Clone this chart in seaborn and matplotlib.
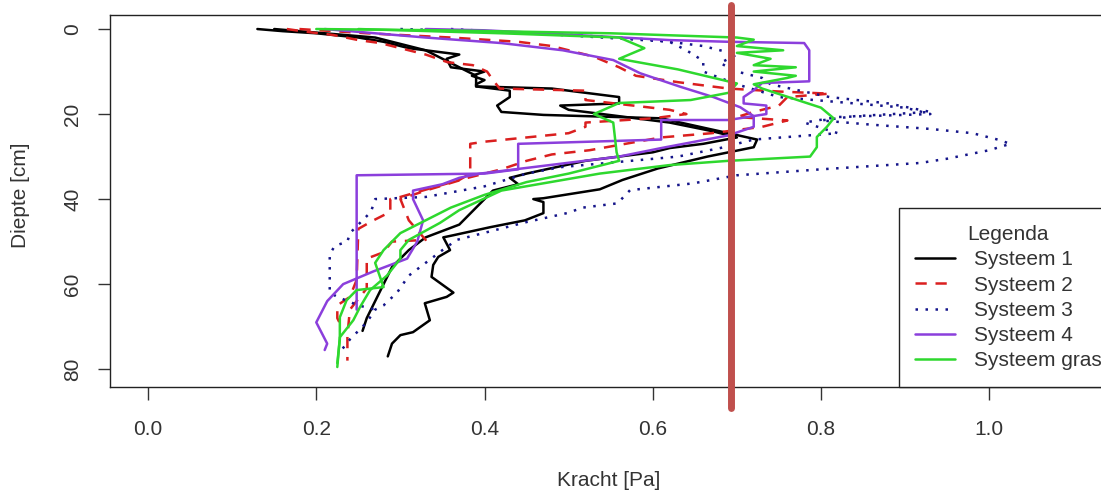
import matplotlib
matplotlib.use("Agg")
import matplotlib.pyplot as plt
import seaborn as sns
import pandas as pd
from matplotlib.lines import Line2D

# Depth profiles: (depth [cm], force [Pa]); two replicates per system
s1_a = [(0, 0.13), (0.5, 0.16), (1, 0.20), (2, 0.25), (3, 0.28), (4, 0.30), (4.5, 0.31), (6, 0.37),
        (7, 0.355), (9, 0.36), (10, 0.40), (11, 0.385), (12, 0.40), (13, 0.39), (13.5, 0.39),
        (14.5, 0.43), (16, 0.43), (18, 0.415), (19.5, 0.42), (20.2, 0.47), (21, 0.61), (24.5, 0.69),
        (26, 0.724), (27.8, 0.72), (29, 0.69), (30, 0.665), (32.8, 0.606), (35.5, 0.564), (37.7, 0.537),
        (39.8, 0.47), (40, 0.458), (40.7, 0.47), (43.3, 0.47), (45, 0.448), (46.6, 0.407), (48.5, 0.363),
        (49, 0.351), (52, 0.359), (53.6, 0.345), (55.5, 0.339), (58.3, 0.337), (62, 0.363), (63, 0.355),
        (64.5, 0.329), (68.5, 0.335), (71.3, 0.315), (72, 0.30), (74, 0.29), (77, 0.285)]
s1_b = [(0, 0.15), (1, 0.21), (2, 0.27), (3.5, 0.30), (5, 0.33), (7, 0.35), (9, 0.37), (11, 0.39),
        (13.5, 0.39), (14, 0.48), (16, 0.56), (17.5, 0.56), (18, 0.49), (19, 0.50), (20.5, 0.56),
        (22, 0.62), (24, 0.67), (25.5, 0.70), (27, 0.66), (28, 0.62), (29, 0.60), (31, 0.52), (34, 0.45),
        (35, 0.43), (36.5, 0.44), (38, 0.41), (42, 0.39), (46, 0.37), (49, 0.33), (52, 0.31), (56, 0.29),
        (60, 0.28), (64, 0.27), (68, 0.26), (71, 0.255)]

s2_a = [(0, 0.165), (0.7, 0.19), (1.4, 0.22), (2.6, 0.25), (3.3, 0.276), (6, 0.33), (7.8, 0.356),
        (8.5, 0.386), (10, 0.403), (12, 0.41), (14, 0.418), (14.5, 0.52), (16.7, 0.52), (19, 0.62),
        (20, 0.64), (21, 0.60), (22, 0.52), (23, 0.52), (24.5, 0.50), (26.5, 0.40), (27, 0.383),
        (34, 0.383), (35.5, 0.37), (39.5, 0.30), (40, 0.288), (43, 0.288), (45, 0.268), (47, 0.25),
        (59, 0.248), (63, 0.24), (65, 0.225), (68, 0.225), (70, 0.23)]
s2_b = [(0, 0.18), (1, 0.26), (2, 0.36), (3, 0.44), (4, 0.48), (6.5, 0.53), (9, 0.56), (11, 0.58),
        (12.5, 0.63), (14, 0.69), (14.7, 0.75), (15.2, 0.81), (16, 0.76), (18, 0.75), (19.5, 0.72),
        (20.7, 0.70), (21.5, 0.76), (23, 0.73), (24.5, 0.67), (25.5, 0.61), (28.5, 0.525), (29.5, 0.48),
        (31, 0.45), (33, 0.42), (35, 0.38), (38, 0.33), (40, 0.30), (45, 0.31), (49.6, 0.33), (50, 0.29),
        (52.5, 0.28), (54, 0.26), (61, 0.26), (66, 0.24), (72, 0.237), (78, 0.237)]

s3_a = [(0, 0.30), (1, 0.47), (2.5, 0.60), (4, 0.66), (6, 0.70), (8, 0.68), (10, 0.70), (11.5, 0.73),
        (13, 0.74), (16, 0.81), (17.5, 0.88), (19.5, 0.93), (20.5, 0.84), (21.5, 0.80), (22.5, 0.86),
        (23.5, 0.93), (24.5, 0.98), (26, 1.01), (27, 1.025), (28.5, 1.0), (30.5, 0.95), (31.5, 0.918),
        (33, 0.80), (34.4, 0.70), (36.3, 0.648), (37.9, 0.573), (41, 0.558), (42, 0.517), (43.3, 0.498),
        (45.4, 0.45), (49.6, 0.367), (52, 0.35), (55, 0.33), (58, 0.31), (62, 0.296), (65, 0.28),
        (66, 0.27), (69, 0.26), (73, 0.24), (76, 0.228)]
s3_b = [(0, 0.36), (1.5, 0.50), (3, 0.62), (5, 0.64), (7.5, 0.66), (10, 0.66), (13, 0.70), (16, 0.75),
        (17, 0.81), (18.5, 0.90), (20, 0.93), (20.7, 0.82), (22, 0.78), (24.5, 0.82), (26, 0.72),
        (28, 0.68), (30, 0.63), (32.5, 0.49), (34, 0.45), (37, 0.40), (39.5, 0.33), (40, 0.27),
        (43, 0.265), (48, 0.24), (50, 0.237), (51, 0.222), (53, 0.216), (62, 0.216), (63, 0.225),
        (65, 0.25), (66, 0.27)]

s4_a = [(0, 0.33), (0.3, 0.40), (1, 0.47), (2.6, 0.62), (3, 0.69), (3.3, 0.78), (5, 0.786), (12.3, 0.786),
        (12.7, 0.73), (14.4, 0.72), (16, 0.708), (17.5, 0.708), (18, 0.735), (20, 0.735), (21.4, 0.69),
        (21.4, 0.61), (23.8, 0.61), (26, 0.61), (27, 0.44), (33, 0.44), (34, 0.40), (34.4, 0.248),
        (66, 0.248)]
s4_b = [(0, 0.21), (1, 0.27), (2, 0.33), (3.3, 0.42), (5, 0.493), (7.3, 0.553), (10.4, 0.585),
        (13.6, 0.633), (16, 0.672), (18.4, 0.704), (20.5, 0.72), (23, 0.72), (25, 0.69), (28, 0.61),
        (30, 0.56), (34, 0.395), (35, 0.37), (36.5, 0.35), (38, 0.315), (40, 0.315), (45, 0.327),
        (50, 0.32), (54, 0.308), (57, 0.268), (60, 0.232), (64, 0.213), (69, 0.20), (74, 0.213),
        (75.5, 0.21)]

s5_a = [(0, 0.20), (0.3, 0.35), (1, 0.55), (2, 0.70), (2.5, 0.72), (4, 0.70), (5, 0.755), (5.6, 0.70),
        (7, 0.74), (8.5, 0.72), (9, 0.77), (10, 0.72), (11, 0.77), (11.5, 0.76), (13, 0.72), (14, 0.73),
        (18.5, 0.80), (21, 0.815), (23, 0.807), (25.4, 0.795), (27.8, 0.795), (30, 0.787), (31, 0.69),
        (32, 0.62), (34, 0.537), (38, 0.42), (42.6, 0.37), (45.6, 0.347), (49.6, 0.31), (52, 0.30),
        (54, 0.30), (58, 0.284), (61.4, 0.264), (65.4, 0.252), (68.5, 0.244), (72.5, 0.228), (79.5, 0.225)]
s5_b = [(0, 0.25), (1, 0.42), (2, 0.56), (4.5, 0.59), (7, 0.56), (9.5, 0.63), (12.8, 0.70), (15, 0.69),
        (16.7, 0.645), (17.4, 0.56), (20, 0.53), (22, 0.553), (29, 0.557), (31, 0.56), (34, 0.50),
        (36, 0.45), (39, 0.40), (42, 0.36), (45, 0.33), (48, 0.30), (52, 0.28), (55, 0.27), (60.7, 0.28),
        (61.4, 0.248), (63.8, 0.236), (67.8, 0.228), (73, 0.228), (78.6, 0.225)]

systems = ["Systeem 1", "Systeem 2", "Systeem 3", "Systeem 4", "Systeem gras"]
curves = {
    "Systeem 1": [s1_a, s1_b],
    "Systeem 2": [s2_a, s2_b],
    "Systeem 3": [s3_a, s3_b],
    "Systeem 4": [s4_a, s4_b],
    "Systeem gras": [s5_a, s5_b],
}
colors = ["#000000", "#DA1F1F", "#15158A", "#8B3FDC", "#2ED82E"]
dash_styles = ["", (4.5, 3.5), (1, 3), "", ""]
x_ticks = [0.0, 0.2, 0.4, 0.6, 0.8, 1.0]
y_ticks = [0, 20, 40, 60, 80]
threshold = 0.693

# long table for seaborn
rows = []
for name, reps in curves.items():
    for i, rep in enumerate(reps):
        for d, f in rep:
            rows.append({"system": name, "rep": f"{name} {i}", "depth": d, "force": f})
df = pd.DataFrame(rows)

sns.set_style("white")
plt.rcParams["font.family"] = ["Liberation Sans", "DejaVu Sans"]

fig = plt.figure(figsize=(11.01, 4.93), dpi=100)
ax = fig.add_axes([110 / 1101, 106 / 493, 1008 / 1101, 372 / 493])

sns.lineplot(data=df, x="force", y="depth", hue="system", style="system", units="rep",
             estimator=None, sort=False, palette=dict(zip(systems, colors)),
             dashes=dict(zip(systems, dash_styles)), linewidth=1.8, legend=False, ax=ax)

ax.set_xlim(-0.0452, 1.153)
ax.set_ylim(84.2, -3.3)
ax.set_xticks(x_ticks)
ax.set_xticklabels([f"{v:.1f}" for v in x_ticks])
ax.set_yticks(y_ticks)
ax.set_yticklabels([str(v) for v in y_ticks], rotation=90, va="center")
ax.tick_params(axis="both", direction="out", length=9, width=1, color="#333333",
               labelsize=15, labelcolor="#333333", left=True, bottom=True)
ax.tick_params(axis="x", pad=15)
ax.tick_params(axis="y", pad=11)
for sp in ax.spines.values():
    sp.set_visible(True)
    sp.set_color("#222222")
    sp.set_linewidth(1.0)

ax.set_xlabel("Kracht [Pa]", fontsize=15, color="#333333", va="top")
ax.xaxis.set_label_coords(0.495, -0.225)
ax.set_ylabel("Diepte [cm]", fontsize=15, color="#333333", va="bottom")
ax.yaxis.set_label_coords(-0.079, 0.516)

# threshold line drawn over the frame
ax.axvline(threshold, ymin=-21 / 372, ymax=382 / 372, color="#C0504D", lw=5,
           clip_on=False, zorder=5)

handles = [Line2D([], [], color=c, lw=1.8, linestyle=("-" if ds == "" else (0, ds)))
           for c, ds in zip(colors, dash_styles)]
leg = ax.legend(handles, systems, title="Legenda", loc="lower right", borderaxespad=0,
                frameon=True, fancybox=False, fontsize=15, title_fontsize=15,
                handlelength=1.9, handletextpad=0.9, labelspacing=0.3, borderpad=0.8)
leg.get_frame().set_edgecolor("#222222")
leg.get_frame().set_linewidth(1.0)
leg.get_frame().set_alpha(1)
for t in leg.get_texts():
    t.set_color("#333333")
leg.get_title().set_color("#333333")

fig.savefig("out.png", dpi=100)
